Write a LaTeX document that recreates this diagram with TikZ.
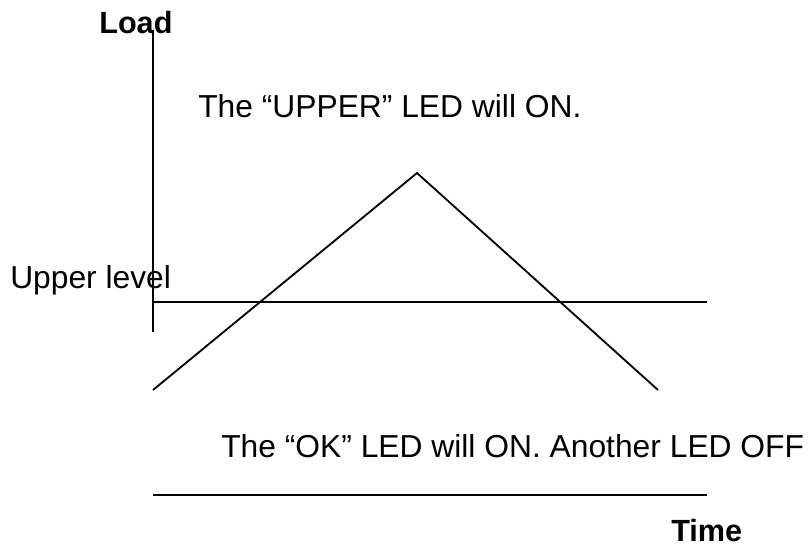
\documentclass[tikz,border=0pt]{standalone}
\usepackage{fontspec}
\setmainfont{Liberation Sans}
\begin{document}
\begin{tikzpicture}[x=0.025cm,y=-0.025cm,
    ln/.style={line width=1.3pt},
    txt/.style={anchor=base west,inner sep=0pt,font=\fontsize{22.6}{26}\selectfont},
    bld/.style={anchor=base west,inner sep=0pt,font=\fontsize{21.8}{26}\selectfont\bfseries}]
	  \useasboundingbox (0,0) rectangle (808,546);
	  \coordinate (ytop) at (153,30);
	  \coordinate (ybot) at (153,332);
	  \coordinate (ul1) at (153,302);
	  \coordinate (ul2) at (707,302);
	  \coordinate (t1) at (153,390);
	  \coordinate (tp) at (417,173);
	  \coordinate (t2) at (658,390);
	  \coordinate (bl1) at (153,495);
	  \coordinate (bl2) at (707,495);
	  \draw[ln] (ytop) -- (ybot);
	  \draw[ln] (ul1) -- (ul2);
	  \draw[ln] (t1) -- (tp) -- (t2);
	  \draw[ln] (bl1) -- (bl2);
	  \node[bld] (load) at (99,33) {Load};
	  \node[bld] (time) at (671,541) {Time};
	  \node[txt] (upper) at (10,288) {Upper level};
	  \node[txt] (uled) at (198,117) {The “UPPER” LED will ON.};
	  \node[txt] (okled) at (221,457) {The “OK” LED will ON. Another LED OFF};
	\end{tikzpicture}
\end{document}
